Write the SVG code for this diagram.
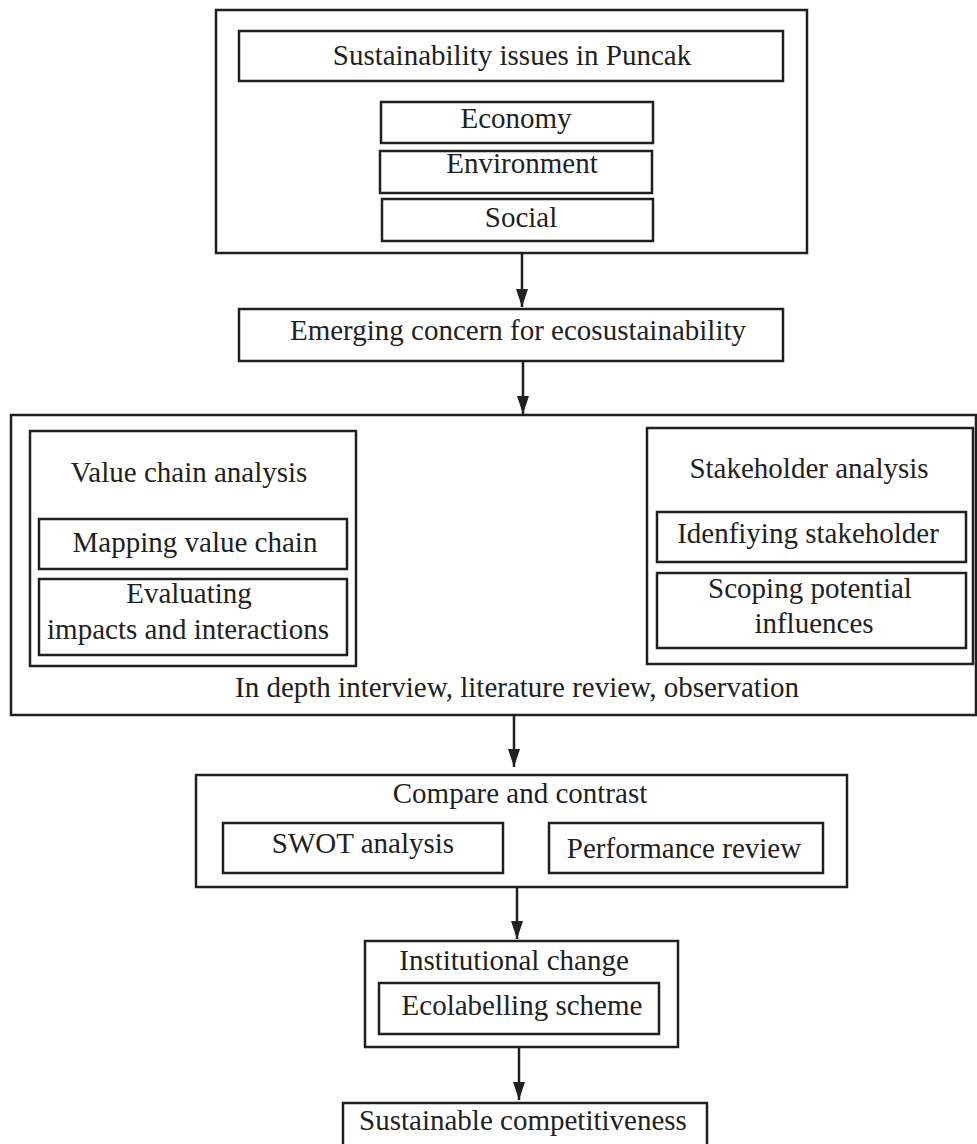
<svg xmlns="http://www.w3.org/2000/svg" width="977" height="1144" viewBox="0 0 977 1144">
<style>
  rect { fill: none; stroke: #231f20; stroke-width: 2.5; }
  text { font-family: "Liberation Serif", "Times New Roman", serif; font-size: 29px; fill: #231f20; text-anchor: middle; }
  .conn line { stroke: #231f20; stroke-width: 2.5; }
</style>
<defs>
  <marker id="ah" markerUnits="userSpaceOnUse" markerWidth="18" markerHeight="12" refX="18" refY="6" orient="auto" viewBox="0 0 18 12">
    <path d="M0,0 L18,6 L0,12 Z" fill="#231f20"/>
  </marker>
</defs>
<rect x="0" y="0" width="977" height="1144" style="fill:#ffffff;stroke:none"/>

<g id="issues">
  <rect x="216" y="10" width="591" height="243"/>
  <rect x="239" y="31" width="544" height="50"/>
  <text x="512" y="65">Sustainability issues in Puncak</text>
</g>
<g id="economy">
  <rect x="381" y="102" width="272" height="41"/>
  <text x="516" y="128">Economy</text>
</g>
<g id="environment">
  <rect x="380" y="151" width="272" height="42"/>
  <text x="522" y="173">Environment</text>
</g>
<g id="social">
  <rect x="382" y="199" width="271" height="42"/>
  <text x="521" y="227">Social</text>
</g>

<g id="emerging">
  <rect x="239" y="309" width="544" height="52"/>
  <text x="518" y="340">Emerging concern for ecosustainability</text>
</g>

<g id="analysis">
  <rect x="11" y="415" width="965" height="300"/>
  <text x="517" y="697">In depth interview, literature review, observation</text>
</g>
<g id="valuechain">
  <rect x="30" y="431" width="326" height="235"/>
  <text x="189" y="482">Value chain analysis</text>
</g>
<g id="mapping">
  <rect x="39" y="519" width="308" height="50"/>
  <text x="195" y="552">Mapping value chain</text>
</g>
<g id="evaluating">
  <rect x="39" y="579" width="308" height="76"/>
  <text x="189" y="603">Evaluating</text>
  <text x="188" y="639">impacts and interactions</text>
</g>
<g id="stakeholder">
  <rect x="647" y="428" width="326" height="236"/>
  <text x="809" y="478">Stakeholder analysis</text>
</g>
<g id="identifying">
  <rect x="657" y="512" width="309" height="50"/>
  <text x="808" y="543">Idenfiying stakeholder</text>
</g>
<g id="scoping">
  <rect x="657" y="573" width="309" height="75"/>
  <text x="810" y="598">Scoping potential</text>
  <text x="814" y="633">influences</text>
</g>

<g id="compare">
  <rect x="196" y="775" width="651" height="112"/>
  <text x="520" y="803">Compare and contrast</text>
</g>
<g id="swot">
  <rect x="223" y="823" width="280" height="50"/>
  <text x="363" y="853">SWOT analysis</text>
</g>
<g id="performance">
  <rect x="549" y="823" width="274" height="50"/>
  <text x="684" y="858">Performance review</text>
</g>

<g id="institutional">
  <rect x="365" y="941" width="313" height="106"/>
  <text x="514" y="970">Institutional change</text>
</g>
<g id="ecolabelling">
  <rect x="379" y="983" width="280" height="51"/>
  <text x="522" y="1015">Ecolabelling scheme</text>
</g>

<g id="competitiveness">
  <rect x="343" y="1103" width="364" height="60"/>
  <text x="523" y="1130">Sustainable competitiveness</text>
</g>

<g class="conn" id="connectors">
  <line x1="522" y1="253" x2="522" y2="307" marker-end="url(#ah)"/>
  <line x1="523" y1="361" x2="523" y2="414" marker-end="url(#ah)"/>
  <line x1="514" y1="715" x2="514" y2="767" marker-end="url(#ah)"/>
  <line x1="517" y1="887" x2="517" y2="939" marker-end="url(#ah)"/>
  <line x1="519" y1="1047" x2="519" y2="1100" marker-end="url(#ah)"/>
</g>
</svg>
